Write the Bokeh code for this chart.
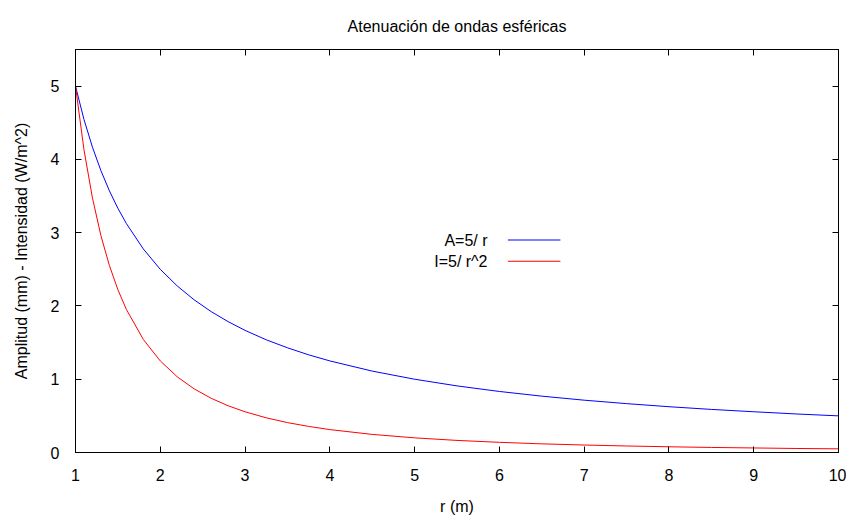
from bokeh.plotting import figure
from bokeh.models import LinearAxis, Range1d, FixedTicker, CustomJSTickFormatter, Label, Title
from bokeh.embed import file_html
from bokeh.resources import INLINE

# ---- data ----
r_vals = [1, 1.1, 1.2, 1.3, 1.4, 1.5, 1.6, 1.8, 2, 2.2, 2.4, 2.6, 2.8, 3, 3.25, 3.5, 3.75,
          4, 4.5, 5, 5.5, 6, 6.5, 7, 7.5, 8, 8.5, 9, 9.5, 10]
amp_vals = [5, 4.545, 4.167, 3.846, 3.571, 3.333, 3.125, 2.778, 2.5, 2.273, 2.083, 1.923,
            1.786, 1.667, 1.538, 1.429, 1.333, 1.25, 1.111, 1.0, 0.909, 0.833, 0.769, 0.714,
            0.667, 0.625, 0.588, 0.556, 0.526, 0.5]
int_vals = [5, 4.132, 3.472, 2.959, 2.551, 2.222, 1.953, 1.543, 1.25, 1.033, 0.868, 0.740,
            0.638, 0.556, 0.473, 0.408, 0.356, 0.3125, 0.247, 0.2, 0.165, 0.139, 0.118, 0.102,
            0.089, 0.078, 0.069, 0.062, 0.055, 0.05]
x_ticks = [1, 2, 3, 4, 5, 6, 7, 8, 9, 10]
y_ticks = [0, 1, 2, 3, 4, 5]
series_labels = ["A=5/ r", "I=5/ r^2"]
series_colors = ["#0000ff", "#ff0000"]
title_text = "Atenuación de ondas esféricas"
x_title = "r (m)"
y_title = "Amplitud (mm) - Intensidad (W/m^2)"

# legend key placement (data coordinates)
key_text_x = 5.86
key_line_x0, key_line_x1 = 6.10, 6.72
key_y = [2.90, 2.61]

FONT = "Liberation Sans"

p = figure(width=846, height=517, output_backend="svg", toolbar_location=None,
           x_range=Range1d(1, 10), y_range=Range1d(0, 5.5),
           min_border_left=75, min_border_right=8, min_border_top=48, min_border_bottom=65)
p.title = Title(text=title_text, align="center", text_font=FONT,
                text_font_size="16px", text_font_style="normal", text_color="black",
                standoff=30)
p.grid.visible = False
p.outline_line_color = "black"
p.outline_line_width = 1
p.background_fill_color = "white"
p.border_fill_color = "white"

for ax in (p.xaxis[0], p.yaxis[0]):
    ax.major_tick_in = 6
    ax.major_tick_out = 0
    ax.minor_tick_line_color = None
    ax.axis_line_color = "black"
    ax.major_label_text_font = FONT
    ax.major_label_text_font_size = "16px"
    ax.major_label_text_color = "black"
    ax.axis_label_text_font = FONT
    ax.axis_label_text_font_size = "16px"
    ax.axis_label_text_font_style = "normal"
    ax.axis_label_text_color = "black"

p.xaxis[0].ticker = FixedTicker(ticks=x_ticks)
p.yaxis[0].ticker = FixedTicker(ticks=y_ticks)
p.xaxis[0].axis_label = x_title
p.yaxis[0].axis_label = y_title
p.xaxis[0].major_label_standoff = 16
p.xaxis[0].axis_label_standoff = 14
p.yaxis[0].major_label_standoff = 16
p.yaxis[0].axis_label_standoff = 18

blank = CustomJSTickFormatter(code="return ''")
top_ax = LinearAxis(ticker=FixedTicker(ticks=x_ticks), formatter=blank,
                    major_tick_in=6, major_tick_out=0, minor_tick_line_color=None,
                    major_label_standoff=0)
right_ax = LinearAxis(ticker=FixedTicker(ticks=y_ticks), formatter=blank,
                      major_tick_in=6, major_tick_out=0, minor_tick_line_color=None,
                      major_label_standoff=0)
p.add_layout(top_ax, "above")
p.add_layout(right_ax, "right")

p.line(r_vals, amp_vals, line_color=series_colors[0], line_width=1)
p.line(r_vals, int_vals, line_color=series_colors[1], line_width=1)

# gnuplot-style key: text right-aligned, sample line to the right
for lab, col, yk in zip(series_labels, series_colors, key_y):
    p.add_layout(Label(x=key_text_x, y=yk, text=lab, text_align="right",
                       text_baseline="middle", text_font=FONT, text_font_size="16px",
                       text_color="black"))
    p.segment(x0=[key_line_x0], y0=[yk], x1=[key_line_x1], y1=[yk],
              line_color=col, line_width=1)

open("out.html", "w").write(file_html(p, INLINE))
